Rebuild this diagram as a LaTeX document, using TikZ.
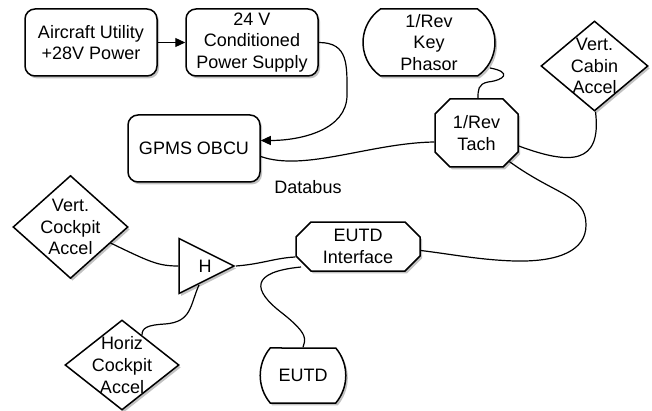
\documentclass[tikz,border=0pt]{standalone}
\usepackage{fontspec}
\setmainfont{Liberation Sans}
\usetikzlibrary{positioning, arrows.meta, shapes.geometric, shapes.misc, shadows, calc}

\begin{document}
\begin{tikzpicture}[
    x=0.5pt, y=-0.5pt,
    every node/.style={font=\fontsize{9}{10.8}\selectfont, align=center},
    shadowed/.style={drop shadow={shadow xshift=1pt, shadow yshift=-1.2pt, opacity=0.4, fill=black!60}},
    unit/.style={
        rectangle,
        draw=black,
        line width=0.75pt,
        fill=white,
        rounded corners=5pt,
        minimum width=66pt,
        minimum height=33.5pt,
        inner sep=0pt,
        shadowed
    },
    pill/.style={
        rounded rectangle,
        rounded rectangle arc length=110,
        draw=black,
        line width=0.75pt,
        fill=white,
        inner sep=0pt,
        shadowed
    },
    chamfer/.style={
        chamfered rectangle,
        chamfered rectangle xsep=4pt,
        draw=black,
        line width=0.75pt,
        fill=white,
        inner sep=0pt,
        shadowed
    },
    sensor/.style={
        diamond,
        draw=black,
        line width=0.75pt,
        fill=white,
        inner sep=0pt,
        shadowed
    },
    amp/.style={
        isosceles triangle,
        isosceles triangle stretches,
        draw=black,
        line width=0.75pt,
        fill=white,
        minimum width=27.5pt,
        minimum height=27.5pt,
        inner sep=0pt,
        shadowed
    },
    wire/.style={line width=0.6pt},
    feed/.style={-{Triangle[length=5pt, width=4.5pt]}, line width=0.6pt}
]

\useasboundingbox (0,0) rectangle (652,411);

% Power chain
\node[unit] (ac) at (91,42.5) {Aircraft Utility\\+28V Power};
\node[unit] (psu) at (252,42.5) {24 V\\Conditioned\\Power Supply};
\node[unit] (obcu) at (194,148.5) {GPMS OBCU};

% Rotor reference
\node[pill, minimum width=66pt, minimum height=33.5pt] (phasor) at (429,42.5) {1/Rev\\Key\\Phasor};
\node[chamfer, minimum width=41.5pt, minimum height=34pt] (tach) at (476.5,133) {1/Rev\\Tach};
\node[sensor, minimum width=53.5pt, minimum height=45pt,
      label={center:Vert.\\Cabin\\Accel}] (cabin) at (594.5,66) {};

% Cockpit sensors and display
\node[sensor, minimum width=57.5pt, minimum height=51.5pt,
      label={center:Vert.\\Cockpit\\Accel}] (vcock) at (70.5,227) {};
\node[sensor, minimum width=57pt, minimum height=45pt,
      label={center:Horiz\\Cockpit\\Accel}] (hcock) at (122,365) {};
\node[amp, anchor=apex, label={[anchor=center, xshift=-15.5pt]east:H}] (hamp) at (236,266) {};
\node[chamfer, minimum width=62pt, minimum height=24.5pt] (eutdi) at (358,246.5) {EUTD\\Interface};
\node[pill, rounded rectangle arc length=80, minimum width=41pt, minimum height=27.5pt] (eutd) at (303,375.5) {EUTD};

\node (bus) at (308,187) {Databus};

% Power feeds
\draw[feed] (ac) -- (psu);
\draw[feed] (psu.east) .. controls +(30,0) and +(0,-30) .. (347,95)
    .. controls +(0,35) and +(40,0) .. ($(obcu.east)+(0,-8)$);

% Databus and signal lines
\draw[wire] ($(obcu.east)+(0,8)$) .. controls (305,172) and (370,143) .. ($(tach.west)+(0,9)$);
\draw[wire] ($(phasor.center)+(61,25.5)$) .. controls (512,72) and (505,80) .. (488,82)
    .. controls (478,84) and (478,90) .. ($(tach.north)+(1.5,0)$);
\draw[wire] ($(tach.east)+(0,13)$) .. controls (570,165) and (602,165) .. ($(cabin.south)+(1,0)$);
\draw[wire] (tach.-41) .. controls (557,196) and (586,195) .. (586,225)
    .. controls (586,250) and (560,262) .. (515,261)
    .. controls (480,260) and (450,254) .. ($(eutdi.east)+(0,4)$);
\draw[wire] (hamp.apex) .. controls (262,264) and (275,258) .. ($(eutdi.west)+(0,10.5)$);
\draw[wire] ($(eutdi.center)+(-57,20.5)$) .. controls (250,272) and (252,290) .. (282,313)
    .. controls (310,335) and (305,340) .. (eutd.north);
\draw[wire] ($(vcock.center)+(40,16)$) .. controls (150,262) and (158,266) .. (hamp.west);
\draw[wire] ($(hamp.apex)+(-37,19)$) .. controls (190,305) and (192,322) .. (165,324)
    .. controls (147,325) and (142,328) .. ($(hcock.center)+(20,-30)$);

\end{tikzpicture}
\end{document}
